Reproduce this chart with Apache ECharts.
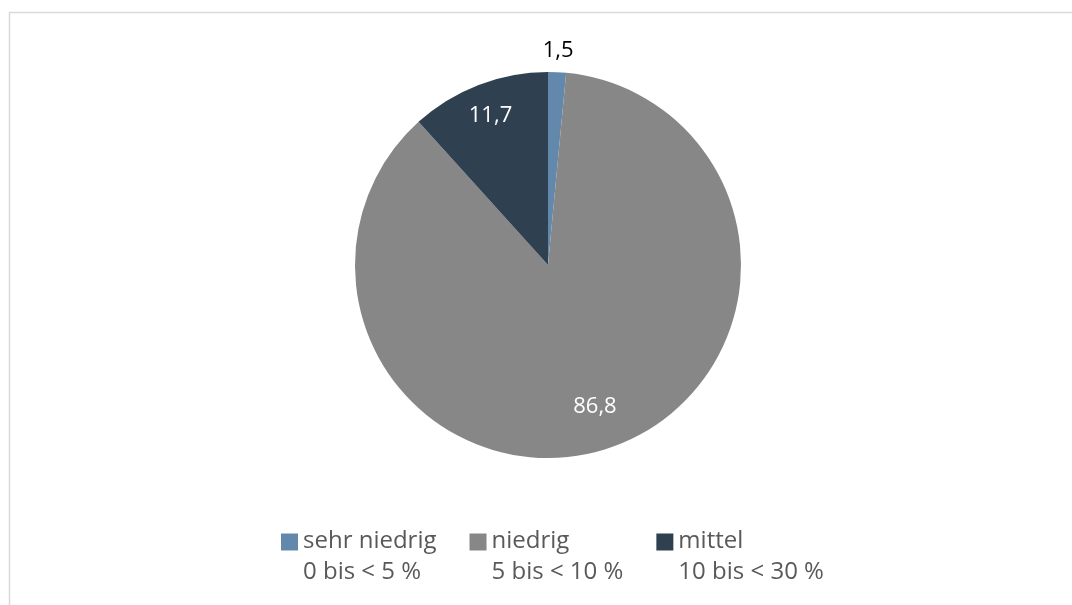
<!DOCTYPE html>
<html>
<head>
<meta charset="utf-8">
<script src="https://cdn.jsdelivr.net/npm/echarts@6/dist/echarts.min.js"></script>
<style>
  html, body { margin: 0; padding: 0; background: #fff; }
  #chart { width: 1072px; height: 605px; }
</style>
</head>
<body>
<div id="chart"></div>
<script>
// Daten
const categories = ["sehr niedrig", "niedrig", "mittel"];
const ranges = ["0 bis < 5 %", "5 bis < 10 %", "10 bis < 30 %"];
const values = [1.5, 86.8, 11.7];
const colors = ["#6289ab", "#878787", "#2f4051"];

const chart = echarts.init(document.getElementById("chart"));

const fmt = (v) => String(v).replace(".", ",");
const FONT = "Open Sans";
const CENTER = [548, 265];

const pieData = categories.map((name, i) => ({
  name: name,
  value: values[i],
  itemStyle: { color: colors[i] },
}));

// transparente Ringe nur für die Beschriftungen (welcher Ring zeigt welches Label)
const labelRing = (show) =>
  categories.map((name, i) => ({
    name: name,
    value: values[i],
    label: { show: show[i] },
  }));

const ringSeries = (radius, show, color) => ({
  type: "pie",
  center: CENTER,
  radius: radius,
  startAngle: 90,
  clockwise: true,
  silent: true,
  legendHoverLink: false,
  itemStyle: { color: "rgba(0,0,0,0)" },
  label: {
    position: "inside",
    formatter: (p) => fmt(p.value),
    color: color,
    fontFamily: FONT,
    fontSize: 22,
  },
  labelLine: { show: false },
  data: labelRing(show),
});

const option = {
  animation: false,
  color: colors,
  graphic: [
    {
      type: "rect",
      silent: true,
      shape: { x: 9.5, y: 12.5, width: 1200, height: 700 },
      style: { fill: "none", stroke: "#d9d9d9", lineWidth: 1.5 },
    },
  ],
  legend: {
    top: 526,
    left: 281,
    padding: 0,
    // Quadrat oben, unsichtbarer Punkt unten: Marker steht auf Höhe der ersten Zeile
    icon: "path://M0,0h17v17h-17z M0,47h0.01",
    itemWidth: 17,
    itemHeight: 47,
    itemGap: 33,
    data: categories,
    formatter: (name) => name + "\n" + ranges[categories.indexOf(name)],
    textStyle: {
      fontFamily: FONT,
      fontSize: 24,
      color: "#595959",
      lineHeight: 31,
    },
  },
  series: [
    {
      type: "pie",
      center: CENTER,
      radius: [0, 193],
      startAngle: 90,
      clockwise: true,
      silent: true,
      label: { show: false },
      labelLine: { show: false },
      itemStyle: { borderWidth: 0 },
      data: pieData,
    },
    ringSeries([120, 194], [false, false, true], "#ffffff"),
    ringSeries([108, 184], [false, true, false], "#ffffff"),
    ringSeries([196, 228], [true, false, false], "#000000"),
  ],
};

chart.setOption(option);
</script>
</body>
</html>
